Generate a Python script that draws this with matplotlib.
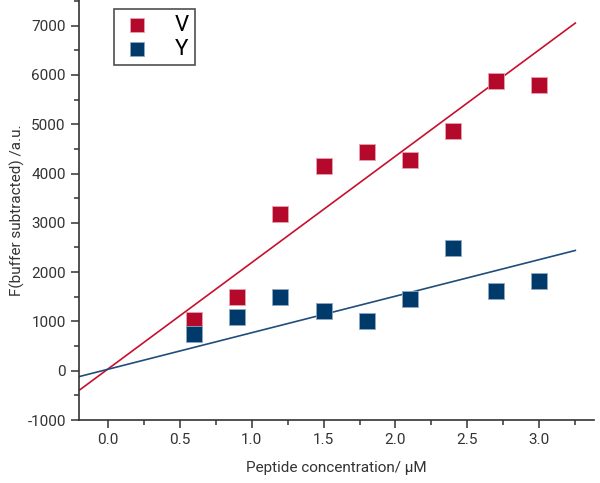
import matplotlib
matplotlib.use("Agg")
import matplotlib.pyplot as plt
import numpy as np
from matplotlib.ticker import MultipleLocator

conc = [0.6, 0.9, 1.2, 1.5, 1.8, 2.1, 2.4, 2.7, 3.0]
v_vals = [1020, 1500, 3170, 4150, 4430, 4270, 4870, 5880, 5790]
y_vals = [750, 1080, 1490, 1220, 1000, 1460, 2480, 1610, 1815]
series_names = ["V", "Y"]
fit_x = [-0.2, 3.25]
v_fit = [32, 2160]   # intercept, slope
y_fit = [28, 742]

red = "#B5092B"
blue = "#003A6B"

plt.rcParams['font.family'] = ['Roboto', 'DejaVu Sans']
fig = plt.figure(figsize=(6.0, 4.83), dpi=100)
ax = fig.add_axes([79/600, 1-420/483, (594-79)/600, 420/483])

fx = np.array(fit_x)
ax.plot(fx, v_fit[0] + v_fit[1]*fx, color="#C8102E", lw=1.2, zorder=2)
ax.plot(fx, y_fit[0] + y_fit[1]*fx, color="#1F4E7A", lw=1.2, zorder=2)
ax.scatter(conc, v_vals, marker='s', s=125, color=red, edgecolors="#E8A0AE", linewidths=0.6, label=series_names[0], zorder=3)
ax.scatter(conc, y_vals, marker='s', s=125, color=blue, edgecolors="#8FA8C4", linewidths=0.6, label=series_names[1], zorder=3)

ax.set_xlim(-0.2, 3.38)
ax.set_ylim(-1000, 7520)
ax.xaxis.set_minor_locator(MultipleLocator(0.25))
ax.yaxis.set_minor_locator(MultipleLocator(500))
ax.set_xticks([0.0, 0.5, 1.0, 1.5, 2.0, 2.5, 3.0])
ax.set_xticklabels(["0.0", "0.5", "1.0", "1.5", "2.0", "2.5", "3.0"])
ax.set_yticks([-1000, 0, 1000, 2000, 3000, 4000, 5000, 6000, 7000])
ax.set_yticklabels(["-1000", "0", "1000", "2000", "3000", "4000", "5000", "6000", "7000"])

for s in ["top", "right"]:
    ax.spines[s].set_visible(False)
for s in ["left", "bottom"]:
    ax.spines[s].set_color("#333333")
    ax.spines[s].set_linewidth(1.2)
ax.tick_params(which='major', direction='out', length=6, width=1.1, color="#333333", labelsize=11, labelcolor="#333333")
ax.tick_params(which='minor', direction='out', length=3.5, width=1.1, color="#333333")

ax.set_xlabel("Peptide concentration/ µM", fontsize=11, color="#333333", labelpad=10)
ax.set_ylabel("F(buffer subtracted) /a.u.", fontsize=11, color="#333333", labelpad=2)

leg = ax.legend(loc='upper left', bbox_to_anchor=((114-79)/515, 1-9/420), borderaxespad=0,
                fontsize=16, frameon=True, fancybox=False, edgecolor="#222222", handletextpad=0.9,
                borderpad=0.25, labelspacing=0.15, handlelength=1.6, markerscale=0.85)
leg.get_frame().set_linewidth(1.2)

fig.savefig("out.png", dpi=100)
